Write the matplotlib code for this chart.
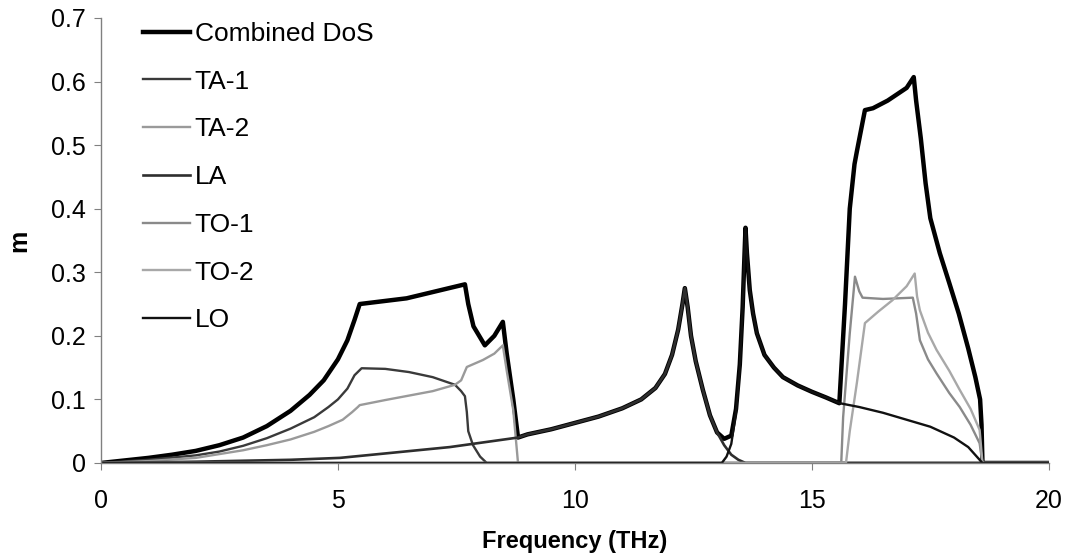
"""Phonon density of states by branch, with the combined DoS on top."""

import matplotlib
matplotlib.use("Agg")
import matplotlib.pyplot as plt

# ---- data (frequency in THz, DoS value) ----
combined_x = [0, 0.5, 1, 1.5, 2, 2.5, 3, 3.5, 4, 4.4, 4.7, 5.0, 5.2, 5.35, 5.46, 6.45, 7.68,
              7.75, 7.86, 8.1, 8.3, 8.48, 8.56, 8.7, 8.8, 9.0, 9.5, 10.0, 10.5, 11.0, 11.4,
              11.7, 11.9, 12.05, 12.18, 12.27, 12.32, 12.38, 12.45, 12.55, 12.7, 12.85, 13.0,
              13.15, 13.3, 13.4, 13.48, 13.54, 13.58, 13.6, 13.63, 13.69, 13.76, 13.84, 14.0,
              14.2, 14.39, 14.7, 15.0, 15.3, 15.58, 15.7, 15.8, 15.9, 15.95, 16.12,
              16.29, 16.6, 17.0, 17.15, 17.2, 17.3, 17.4, 17.5, 17.7, 17.9, 18.1, 18.3, 18.45,
              18.55, 18.58, 18.6, 20]
combined_y = [0, 0.004, 0.008, 0.013, 0.019, 0.028, 0.04, 0.058, 0.082, 0.107, 0.13, 0.163,
              0.193, 0.225, 0.25, 0.259, 0.281, 0.25, 0.215, 0.185, 0.2, 0.222, 0.173, 0.1,
              0.04, 0.045, 0.053, 0.063, 0.073, 0.086, 0.1, 0.118, 0.14, 0.17, 0.21, 0.25,
              0.275, 0.245, 0.2, 0.16, 0.115, 0.075, 0.048, 0.038, 0.043, 0.085, 0.155, 0.245,
              0.33, 0.37, 0.33, 0.272, 0.235, 0.204, 0.17, 0.15, 0.135, 0.122, 0.112, 0.103,
              0.094, 0.25, 0.40, 0.47, 0.49, 0.555, 0.558, 0.57, 0.59, 0.607, 0.57, 0.51,
              0.44, 0.385, 0.33, 0.283, 0.235, 0.18, 0.135, 0.1, 0.06, 0, 0]

ta1_x = [0, 1, 2, 2.5, 3, 3.5, 4, 4.5, 4.8, 5.0, 5.2, 5.35, 5.5, 6.0, 6.5, 7.0, 7.47, 7.6,
         7.68, 7.72, 7.75, 7.85, 8.0, 8.14, 20]
ta1_y = [0, 0.005, 0.012, 0.018, 0.027, 0.039, 0.054, 0.072, 0.088, 0.1, 0.117, 0.138, 0.149,
         0.148, 0.143, 0.135, 0.123, 0.113, 0.105, 0.08, 0.05, 0.028, 0.01, 0, 0]

ta2_x = [0, 1, 2, 3, 3.5, 4, 4.5, 4.8, 5.1, 5.3, 5.42, 5.46, 6.0, 6.5, 7.0, 7.47, 7.6, 7.72,
         8.06, 8.3, 8.48, 8.56, 8.7, 8.8, 20]
ta2_y = [0, 0.003, 0.008, 0.02, 0.028, 0.037, 0.049, 0.058, 0.068, 0.08, 0.088, 0.091, 0.099,
         0.106, 0.113, 0.123, 0.13, 0.151, 0.162, 0.172, 0.185, 0.146, 0.083, 0, 0]

la_x = [0, 2, 4, 5.04, 6, 7.36, 8.8, 9.0, 9.5, 10.0, 10.5, 11.0, 11.4, 11.7, 11.9, 12.05,
        12.18, 12.27, 12.32, 12.38, 12.45, 12.55, 12.7, 12.85, 13.0, 13.15, 13.3, 13.45,
        13.6, 20]
la_y = [0, 0.002, 0.005, 0.008, 0.015, 0.025, 0.04, 0.045, 0.053, 0.063, 0.073, 0.086, 0.1,
        0.118, 0.14, 0.17, 0.21, 0.25, 0.275, 0.245, 0.2, 0.16, 0.115, 0.075, 0.048, 0.028,
        0.013, 0.005, 0, 0]

to1_x = [0, 15.62, 15.66, 15.8, 15.91, 16.0, 16.07, 16.5, 17.13, 17.2, 17.28, 17.45, 17.63,
         17.9, 18.12, 18.35, 18.54, 18.6, 20]
to1_y = [0, 0, 0.072, 0.204, 0.293, 0.27, 0.26, 0.258, 0.26, 0.235, 0.193, 0.163, 0.141,
         0.11, 0.088, 0.06, 0.031, 0, 0]

to2_x = [0, 15.72, 15.8, 15.95, 16.12, 16.4, 16.7, 17.0, 17.17, 17.22, 17.28, 17.45, 17.63,
         17.9, 18.12, 18.35, 18.54, 18.6, 20]
to2_y = [0, 0, 0.05, 0.126, 0.22, 0.238, 0.256, 0.278, 0.298, 0.262, 0.24, 0.205, 0.178,
         0.145, 0.115, 0.085, 0.052, 0, 0]

lo_x = [0, 13.1, 13.2, 13.3, 13.4, 13.48, 13.54, 13.58, 13.6, 13.63, 13.69, 13.76, 13.84,
        14.0, 14.2, 14.39, 14.7, 15.0, 15.3, 15.59, 16.0, 16.5, 17.0, 17.5, 18.0, 18.3,
        18.6, 20]
lo_y = [0, 0, 0.01, 0.03, 0.08, 0.15, 0.245, 0.33, 0.37, 0.33, 0.272, 0.235, 0.204, 0.17,
        0.15, 0.135, 0.122, 0.112, 0.103, 0.094, 0.088, 0.079, 0.068, 0.057, 0.04, 0.025,
        0, 0]

x_ticks = [0, 5, 10, 15, 20]
y_ticks = [0, 0.1, 0.2, 0.3, 0.4, 0.5, 0.6, 0.7]
y_tick_labels = ["0", "0.1", "0.2", "0.3", "0.4", "0.5", "0.6", "0.7"]

plt.rcParams["font.family"] = ["Liberation Sans", "DejaVu Sans"]

fig = plt.figure(figsize=(10.65, 5.57), dpi=100)
ax = fig.add_axes([0.0948, 0.1688, 0.890, 0.799])

series = [
    ("Combined DoS", combined_x, combined_y, "#000000", 3.2),
    ("TA-1", ta1_x, ta1_y, "#3a3a3a", 1.7),
    ("TA-2", ta2_x, ta2_y, "#9a9a9a", 1.7),
    ("LA", la_x, la_y, "#2e2e2e", 1.9),
    ("TO-1", to1_x, to1_y, "#8a8a8a", 1.7),
    ("TO-2", to2_x, to2_y, "#a8a8a8", 1.7),
    ("LO", lo_x, lo_y, "#111111", 1.7),
]
for label, xs, ys, color, lw in series:
    ax.plot(xs, ys, color=color, linewidth=lw, label=label, solid_joinstyle="round")

ax.set_xlim(0, 20)
ax.set_ylim(0, 0.7)
ax.set_xticks(x_ticks)
ax.set_yticks(y_ticks)
ax.set_yticklabels(y_tick_labels)
ax.tick_params(labelsize=18, length=5, color="#808080")
ax.tick_params(axis="x", pad=14)
ax.tick_params(axis="y", pad=6)
for side in ("top", "right"):
    ax.spines[side].set_visible(False)
for side in ("left", "bottom"):
    ax.spines[side].set_color("#808080")
    ax.spines[side].set_linewidth(1.0)

ax.set_xlabel("Frequency (THz)", fontsize=17, fontweight="bold", labelpad=12)
ax.set_ylabel("m", fontsize=18, fontweight="bold", labelpad=14)

ax.legend(loc="upper left", bbox_to_anchor=(0.033, 1.015), frameon=False, fontsize=19,
          handlelength=1.78, handletextpad=0.19, labelspacing=0.9, borderaxespad=0)

fig.savefig("out.png", dpi=100)
